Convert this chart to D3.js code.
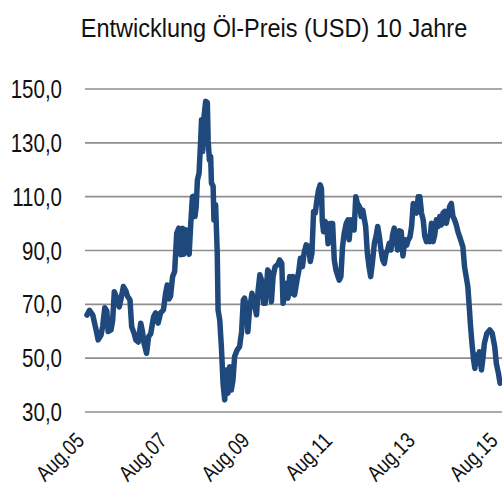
<!DOCTYPE html>
<html>
<head>
<meta charset="utf-8">
<script src="https://cdn.jsdelivr.net/npm/d3@7"></script>
<style>
  html, body { margin: 0; padding: 0; background: #fff; }
  svg { display: block; }
  text { font-family: "Liberation Sans", Arial, sans-serif; fill: #111; }
</style>
</head>
<body>
<div id="main"></div>
<script>
const title = 'Entwicklung Öl-Preis (USD) 10 Jahre';

// decimal years (Aug 2005 = 2005.58)
const years = [
  2005.58, 2005.64, 2005.72, 2005.80, 2005.85, 2005.92, 2005.96, 2006.01, 2006.06, 2006.09,
  2006.16, 2006.20, 2006.24, 2006.30, 2006.36, 2006.40, 2006.46, 2006.52, 2006.56, 2006.62,
  2006.66, 2006.72, 2006.76, 2006.82, 2006.88, 2006.92, 2006.96, 2007.02, 2007.07, 2007.12,
  2007.19, 2007.24, 2007.30, 2007.36, 2007.43, 2007.48, 2007.52, 2007.56, 2007.60, 2007.65,
  2007.70, 2007.75, 2007.80, 2007.85, 2007.89, 2007.92, 2007.97, 2008.01, 2008.05, 2008.09,
  2008.13, 2008.17, 2008.19, 2008.22, 2008.25, 2008.29, 2008.33, 2008.35, 2008.38, 2008.41,
  2008.45, 2008.49, 2008.51, 2008.54, 2008.57, 2008.59, 2008.63, 2008.65, 2008.69, 2008.73,
  2008.75, 2008.79, 2008.83, 2008.87, 2008.91, 2008.95, 2008.99, 2009.03, 2009.07, 2009.11,
  2009.15, 2009.21, 2009.27, 2009.32, 2009.36, 2009.39, 2009.44, 2009.47, 2009.51, 2009.57,
  2009.63, 2009.68, 2009.72, 2009.76, 2009.80, 2009.85, 2009.89, 2009.95, 2010.00, 2010.04,
  2010.08, 2010.13, 2010.19, 2010.24, 2010.29, 2010.32, 2010.36, 2010.40, 2010.44, 2010.48,
  2010.52, 2010.56, 2010.60, 2010.66, 2010.70, 2010.74, 2010.79, 2010.83, 2010.88, 2010.94,
  2010.98, 2011.02, 2011.06, 2011.10, 2011.14, 2011.18, 2011.22, 2011.25, 2011.27, 2011.30,
  2011.34, 2011.38, 2011.41, 2011.46, 2011.52, 2011.56, 2011.60, 2011.65, 2011.68, 2011.72,
  2011.76, 2011.80, 2011.85, 2011.89, 2011.92, 2011.96, 2012.00, 2012.04, 2012.08, 2012.12,
  2012.17, 2012.21, 2012.25, 2012.29, 2012.32, 2012.36, 2012.40, 2012.44, 2012.48, 2012.53,
  2012.57, 2012.61, 2012.65, 2012.69, 2012.73, 2012.77, 2012.81, 2012.85, 2012.89, 2012.93,
  2012.97, 2013.01, 2013.05, 2013.09, 2013.13, 2013.18, 2013.22, 2013.27, 2013.31, 2013.35,
  2013.39, 2013.43, 2013.47, 2013.51, 2013.55, 2013.59, 2013.63, 2013.67, 2013.71, 2013.75,
  2013.79, 2013.83, 2013.87, 2013.91, 2013.95, 2013.99, 2014.03, 2014.07, 2014.11, 2014.15,
  2014.19, 2014.23, 2014.27, 2014.31, 2014.35, 2014.39, 2014.43, 2014.47, 2014.51, 2014.55,
  2014.59, 2014.63, 2014.67, 2014.71, 2014.75, 2014.79, 2014.83, 2014.85, 2014.89, 2014.93,
  2014.96, 2014.99, 2015.03, 2015.07, 2015.12, 2015.15, 2015.19, 2015.25, 2015.32, 2015.38,
  2015.44, 2015.48, 2015.53, 2015.57
];

// oil price in USD
const prices = [
  66.0, 67.8, 66.0, 60.5, 56.8, 58.6, 62.0, 68.7, 67.5, 59.9,
  60.5, 64.0, 74.7, 72.4, 69.0, 71.8, 76.6, 75.0, 73.0, 71.6,
  61.7, 59.2, 56.8, 56.0, 63.0, 60.0, 55.5, 51.8, 58.0, 59.0,
  65.4, 66.8, 63.0, 66.8, 68.0, 74.0, 77.2, 72.0, 73.0, 80.3,
  82.2, 96.5, 98.3, 88.4, 98.3, 88.6, 97.7, 90.2, 88.6, 100.1,
  110.0, 110.2, 102.6, 106.0, 116.2, 118.7, 131.1, 138.6, 126.8, 139.8,
  145.4, 145.0, 131.0, 123.6, 125.0, 115.0, 113.9, 101.4, 107.0, 89.0,
  67.9, 64.2, 54.3, 40.7, 34.5, 45.6, 37.0, 46.8, 38.2, 41.9,
  50.6, 53.0, 54.3, 60.0, 71.6, 72.3, 68.4, 59.8, 68.0, 74.1,
  69.8, 66.1, 75.4, 81.0, 79.0, 70.4, 70.4, 82.8, 81.5, 71.0,
  80.3, 84.0, 84.7, 86.5, 85.3, 70.4, 72.8, 77.8, 72.3, 80.3,
  74.0, 80.3, 73.5, 79.1, 82.2, 87.1, 84.0, 89.0, 92.1, 91.5,
  85.9, 89.0, 104.5, 103.9, 108.8, 112.5, 114.4, 113.0, 101.0, 97.0,
  100.8, 99.0, 92.5, 100.0, 100.0, 86.5, 82.8, 80.3, 79.0, 80.3,
  91.4, 96.4, 100.1, 101.4, 94.0, 101.4, 100.1, 97.6, 110.0, 107.5,
  106.3, 102.6, 105.0, 101.4, 98.8, 89.0, 84.0, 80.3, 85.2, 92.7,
  95.2, 98.9, 95.2, 90.2, 86.5, 85.2, 89.0, 90.2, 92.7, 90.2,
  95.8, 98.3, 95.2, 90.2, 97.3, 97.0, 88.0, 94.0, 92.0, 94.0,
  95.0, 98.9, 107.5, 106.3, 103.9, 110.0, 110.0, 103.9, 101.4, 95.2,
  93.3, 95.2, 93.3, 100.1, 93.3, 95.8, 101.4, 98.9, 102.6, 99.5,
  103.9, 104.5, 100.1, 103.3, 106.3, 107.5, 102.6, 101.4, 99.5, 97.0,
  95.2, 93.3, 91.4, 84.0, 80.3, 76.6, 67.9, 63.0, 55.5, 49.3,
  46.2, 51.2, 48.0, 52.4, 45.6, 49.3, 55.5, 59.2, 60.5, 59.2,
  54.3, 48.0, 44.4, 40.7
];

const yTicks = [30, 50, 70, 90, 110, 130, 150];
const xTicks = [2005.58, 2007.58, 2009.58, 2011.58, 2013.58, 2015.58];
const xLabels = ['Aug.05', 'Aug.07', 'Aug.09', 'Aug.11', 'Aug.13', 'Aug.15'];

const width = 502;
const height = 492;
const plotLeft = 87;
const plotRight = 500.5;
const plotTop = 89;
const plotBottom = 412;
const narrow = 0.82; // squeeze Arial-like glyphs into a narrow face

const svg = d3.select('#main').append('svg')
    .attr('width', width)
    .attr('height', height);

const x = d3.scaleLinear()
    .domain([xTicks[0], xTicks[xTicks.length - 1]])
    .range([plotLeft, plotRight]);
const y = d3.scaleLinear()
    .domain([30, 150])
    .range([plotBottom, plotTop]);

svg.append('text')
    .attr('transform', `translate(274, 37) scale(0.94, 1)`)
    .attr('text-anchor', 'middle')
    .style('font-size', '25px')
    .text(title);

// gridlines
svg.append('g')
    .selectAll('line')
    .data(yTicks)
    .enter()
    .append('line')
    .attr('x1', 85)
    .attr('x2', width)
    .attr('y1', (d) => y(d))
    .attr('y2', (d) => y(d))
    .attr('stroke', '#8f8f8f')
    .attr('stroke-width', 1.6);

// y axis labels
const fmt = (d) => d3.format('.1f')(d).replace('.', ',');
svg.append('g')
    .selectAll('text')
    .data(yTicks)
    .enter()
    .append('text')
    .attr('transform', (d) => `translate(62, ${y(d) + 9}) scale(${narrow}, 1)`)
    .attr('text-anchor', 'end')
    .style('font-size', '25px')
    .text(fmt);

// x axis labels
svg.append('g')
    .selectAll('text')
    .data(xTicks)
    .enter()
    .append('text')
    .attr('transform', (d) => `translate(${x(d) - 1.5}, 442) rotate(-45) scale(${narrow}, 1)`)
    .attr('text-anchor', 'end')
    .style('font-size', '22px')
    .text((d, i) => xLabels[i]);

const points = years.map((yr, i) => ({ year: yr, value: prices[i] }));

const lineGenerator = d3.line()
    .x((d) => x(d.year))
    .y((d) => y(d.value));

svg.append('path')
    .datum(points)
    .attr('fill', 'none')
    .attr('stroke', '#1f497d')
    .attr('stroke-width', 5.5)
    .attr('stroke-linejoin', 'round')
    .attr('stroke-linecap', 'round')
    .attr('d', lineGenerator);
</script>
</body>
</html>
